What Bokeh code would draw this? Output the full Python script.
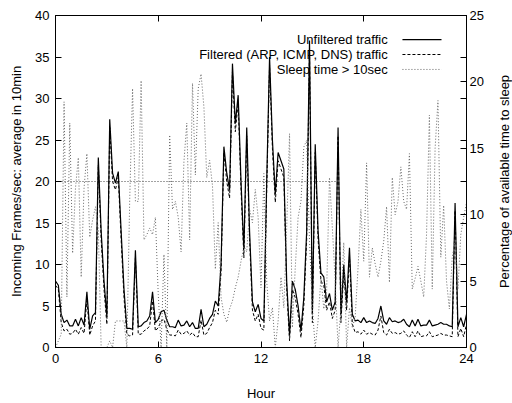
import math
from bokeh.plotting import figure
from bokeh.layouts import row
from bokeh.models import Range1d, LinearAxis, FixedTicker
from bokeh.embed import file_html
from bokeh.resources import INLINE
from bokeh.core.properties import value

# 10-minute samples over one day
hours = [i / 6 for i in range(145)]

unfiltered = [
    8.0, 7.5, 4.0, 3.0, 3.3, 2.6, 2.6, 3.4, 2.6, 3.6,
    2.7, 6.7, 2.2, 3.8, 4.2, 22.9, 14.0, 8.0, 3.7, 27.5,
    21.0, 19.8, 21.2, 14.0, 7.0, 2.3, 2.3, 2.2, 11.7, 2.5,
    2.6, 3.0, 3.2, 3.8, 6.7, 3.0, 3.4, 4.3, 4.5, 3.3,
    2.5, 2.5, 2.4, 3.3, 2.6, 2.7, 3.2, 2.5, 3.0, 2.3,
    2.3, 4.6, 2.5, 2.8, 3.5, 4.0, 5.6, 5.0, 10.0, 24.2,
    21.0, 19.0, 34.2, 27.0, 30.4, 20.0, 11.8, 26.5, 14.0, 5.5,
    4.3, 5.2, 3.5, 3.2, 20.0, 35.0, 25.0, 18.5, 23.5, 22.5,
    21.5, 8.0, 1.5, 8.0, 7.0, 5.0, 2.0, 6.0, 14.0, 37.0,
    4.0, 24.5, 14.0, 9.0, 8.5, 5.5, 6.5, 4.5, 5.5, 26.5,
    4.0, 10.0, 5.5, 12.0, 4.0, 3.2, 3.3, 3.0, 3.6, 3.0,
    3.2, 3.0, 2.9, 3.5, 5.0, 3.2, 2.8, 3.6, 3.1, 3.2,
    3.0, 3.1, 3.4, 2.8, 2.5, 3.3, 2.6, 3.4, 2.6, 2.7,
    2.7, 3.3, 2.6, 2.7, 2.8, 3.0, 2.8, 2.8, 2.6, 2.5,
    17.4, 2.5, 3.6, 2.5, 4.0,
]

filtered = [
    7.5, 7.0, 3.0, 2.0, 2.2, 1.6, 1.7, 2.2, 1.6, 2.4,
    1.7, 5.8, 1.5, 2.6, 3.2, 22.0, 13.0, 7.0, 2.8, 26.5,
    20.0, 19.0, 20.5, 13.0, 6.0, 1.6, 1.4, 1.5, 10.8, 1.6,
    1.6, 2.0, 2.2, 2.6, 5.6, 2.0, 2.4, 3.2, 3.4, 2.2,
    1.5, 1.5, 1.4, 2.1, 1.6, 1.7, 2.0, 1.5, 1.8, 1.3,
    1.3, 3.3, 1.5, 1.7, 2.4, 3.0, 4.5, 4.0, 9.0, 23.5,
    20.0, 18.0, 33.2, 26.0, 29.5, 19.0, 10.8, 25.5, 13.0, 4.5,
    3.2, 4.0, 2.3, 2.1, 19.0, 34.0, 24.0, 17.5, 22.5, 21.5,
    20.5, 7.0, 0.8, 7.0, 6.0, 4.0, 1.2, 5.0, 13.0, 36.0,
    3.0, 23.5, 13.0, 8.0, 7.5, 4.5, 5.5, 3.5, 4.5, 25.5,
    3.0, 9.0, 4.5, 11.0, 2.8, 1.8, 1.9, 1.6, 2.1, 1.6,
    1.8, 1.6, 1.5, 2.1, 3.8, 1.8, 1.5, 2.2, 1.7, 1.8,
    1.6, 1.7, 2.0, 1.5, 1.2, 1.9, 1.3, 2.0, 1.3, 1.4,
    1.4, 1.9, 1.3, 1.4, 1.5, 1.7, 1.5, 1.5, 1.4, 1.3,
    16.5, 1.3, 2.3, 1.3, 2.8,
]

sleep_pct = [
    0.0, 0.5, 1.0, 18.5, 3.8, 16.9, 7.1, 12.0, 14.3, 5.3,
    12.0, 14.6, 8.3, 9.6, 10.6, 8.9, 0.0, 0.0, 0.0, 0.5,
    0.0, 2.0, 2.0, 2.0, 2.0, 0.0, 11.1, 19.5, 11.0, 11.0,
    20.1, 8.1, 8.5, 9.0, 8.5, 9.8, 4.0, 0.0, 7.0, 0.0,
    16.0, 10.4, 11.0, 9.8, 7.2, 14.0, 16.9, 8.1, 19.9, 13.0,
    19.5, 20.6, 18.1, 12.8, 14.1, 12.2, 5.9, 9.4, 3.8, 2.5,
    1.9, 2.9, 3.5, 4.5, 5.3, 6.5, 7.6, 7.2, 10.4, 9.4,
    11.9, 9.8, 4.5, 13.1, 5.0, 2.0, 3.0, 0.0, 2.0, 5.3,
    3.0, 9.0, 16.1, 1.5, 6.0, 9.8, 11.0, 15.1, 15.6, 8.0,
    3.0, 0.0, 2.0, 5.3, 2.9, 4.3, 12.8, 9.0, 5.0, 0.0,
    3.0, 7.9, 0.0, 3.0, 1.5, 2.3, 6.0, 10.4, 6.5, 13.9,
    5.3, 7.5, 6.3, 5.3, 6.5, 8.0, 10.6, 4.9, 12.8, 10.0,
    11.0, 13.6, 11.0, 10.4, 14.6, 4.4, 5.2, 6.1, 5.0, 3.8,
    8.5, 17.5, 4.4, 15.0, 18.6, 6.8, 10.7, 5.0, 2.9, 6.8,
    8.0, 4.4, 8.5, 9.8, 10.9,
]

threshold_level = 20
threshold_hours = [0, 16.4]

x_ticks = [0, 6, 12, 18, 24]
top_mirror_ticks = [6, 12, 18]
left_ticks = [0, 5, 10, 15, 20, 25, 30, 35, 40]
right_ticks = [0, 5, 10, 15, 20, 25]
right_mirror_ticks = [t * 25 / 40 for t in left_ticks]

legend_labels = ["Unfiltered traffic", "Filtered (ARP, ICMP, DNS) traffic", "Sleep time > 10sec"]
right_axis_title = "Percentage of available time to sleep"

FONT = "Liberation Sans"
FS = "13px"
SLEEP_COLOR = "#666666"
SLEEP_DASH = "1 2"

p = figure(width=496, height=403, output_backend="svg", toolbar_location=None,
           x_range=Range1d(0, 24), y_range=Range1d(0, 40),
           min_border_left=55, min_border_right=30, min_border_top=15, min_border_bottom=55,
           x_axis_location=None, y_axis_location=None)
p.extra_y_ranges = {"right": Range1d(0, 25)}
p.grid.visible = False
p.outline_line_color = "black"
p.outline_line_width = 1
p.background_fill_color = "white"
p.border_fill_color = "white"


def style_axis(ax, ticks, minor=None):
    ax.ticker = FixedTicker(ticks=ticks, minor_ticks=minor or [])
    ax.major_tick_in = 6
    ax.major_tick_out = 0
    ax.minor_tick_in = 6
    ax.minor_tick_out = 0
    ax.minor_tick_line_color = "black"
    ax.axis_line_color = "black"
    ax.major_tick_line_color = "black"
    ax.major_label_text_font = FONT
    ax.major_label_text_font_size = FS
    ax.major_label_text_color = "black"
    ax.axis_label_text_font = FONT
    ax.axis_label_text_font_size = FS
    ax.axis_label_text_font_style = "normal"
    ax.axis_label_text_color = "black"


bottom = LinearAxis(axis_label="Hour")
style_axis(bottom, x_ticks)
bottom.major_label_standoff = 6
bottom.axis_label_standoff = 20
p.add_layout(bottom, "below")

top = LinearAxis()
style_axis(top, [], minor=top_mirror_ticks)
top.major_label_standoff = 0
p.add_layout(top, "above")

left = LinearAxis(axis_label="Incoming Frames/sec: average in 10min")
style_axis(left, left_ticks)
left.major_label_standoff = 6
left.axis_label_standoff = 8
p.add_layout(left, "left")

right = LinearAxis(y_range_name="right")
style_axis(right, right_ticks, minor=right_mirror_ticks)
right.major_label_standoff = 3
p.add_layout(right, "right")

# threshold line
p.line(threshold_hours, [threshold_level, threshold_level], line_color="#444444",
       line_width=1, line_dash="1 2")

p.line(hours, unfiltered, line_color="black", line_width=1.2)
p.line(hours, filtered, line_color="black", line_width=1, line_dash="3 2")
p.line(hours, sleep_pct, y_range_name="right", line_color=SLEEP_COLOR, line_width=1,
       line_dash=SLEEP_DASH)

# key (gnuplot style: text left, sample right)
key_text_x = 19.4
key_y = [37.1, 35.3, 33.5]
key_x0, key_x1 = 20.26, 22.54
p.text(x=[key_text_x] * 3, y=key_y, text=legend_labels, text_align="right",
       text_baseline="middle", text_font=value(FONT), text_font_size=FS, text_color="black")
p.segment(x0=[key_x0], x1=[key_x1], y0=[key_y[0]], y1=[key_y[0]], line_color="black", line_width=1.2)
p.segment(x0=[key_x0], x1=[key_x1], y0=[key_y[1]], y1=[key_y[1]], line_color="black",
          line_width=1, line_dash="3 2")
p.segment(x0=[key_x0], x1=[key_x1], y0=[key_y[2] * 25 / 40], y1=[key_y[2] * 25 / 40],
          y_range_name="right", line_color=SLEEP_COLOR, line_width=1, line_dash=SLEEP_DASH)

# narrow strip holding the right-axis title, reading bottom-to-top
q = figure(width=16, height=403, output_backend="svg", toolbar_location=None,
           x_range=Range1d(0, 1), y_range=Range1d(0, 1),
           min_border_left=0, min_border_right=0, min_border_top=15, min_border_bottom=55,
           x_axis_location=None, y_axis_location=None)
q.grid.visible = False
q.outline_line_color = None
q.background_fill_color = "white"
q.border_fill_color = "white"
q.text(x=[0.5], y=[0.5], text=[right_axis_title], angle=math.pi / 2,
       text_align="center", text_baseline="middle",
       text_font=value(FONT), text_font_size=FS, text_color="black")

layout = row(p, q, spacing=0)
open("out.html", "w").write(file_html(layout, INLINE))
